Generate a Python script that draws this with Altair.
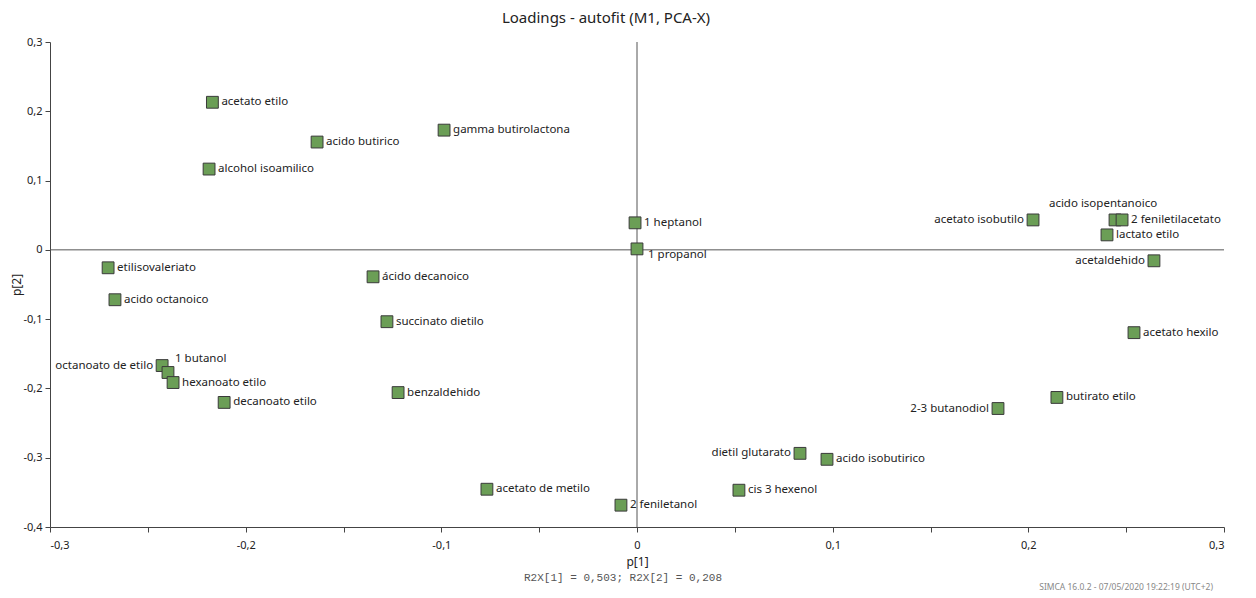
import altair as alt
import pandas as pd
import numpy as np

names = [
    "acetato etilo", "acido butirico", "gamma butirolactona", "alcohol isoamilico",
    "1 heptanol", "1 propanol", "acetato isobutilo", "acido isopentanoico",
    "2 feniletilacetato", "lactato etilo", "acetaldehido", "etilisovaleriato",
    "acido octanoico", "ácido decanoico", "succinato dietilo", "benzaldehido",
    "acetato hexilo", "butirato etilo", "2-3 butanodiol", "dietil glutarato",
    "acido isobutirico", "cis 3 hexenol", "acetato de metilo", "2 feniletanol",
    "octanoato de etilo", "1 butanol", "hexanoato etilo", "decanoato etilo",
]
p1 = [
    -0.217, -0.1635, -0.0986, -0.2187,
    -0.001, 0.000, 0.2024, 0.2443,
    0.2479, 0.2402, 0.2642, -0.2703,
    -0.2668, -0.1349, -0.1278, -0.1221,
    0.2540, 0.2146, 0.1845, 0.0833,
    0.0971, 0.0521, -0.0767, -0.0082,
    -0.2427, -0.2397, -0.2371, -0.2110,
]
p2 = [
    0.213, 0.1556, 0.1728, 0.1166,
    0.039, 0.0014, 0.0432, 0.0432,
    0.0432, 0.0216, -0.0158, -0.0259,
    -0.072, -0.0389, -0.1037, -0.2060,
    -0.1195, -0.2130, -0.2290, -0.2937,
    -0.3023, -0.3469, -0.3455, -0.3685,
    -0.1670, -0.1770, -0.1915, -0.2202,
]

left_labels = ["octanoato de etilo", "acetato isobutilo", "acetaldehido",
               "2-3 butanodiol", "dietil glutarato"]
above_labels = ["acido isopentanoico"]
upright_labels = ["1 butanol"]
below_labels = ["1 propanol"]
special = left_labels + above_labels + upright_labels + below_labels

title_text = "Loadings - autofit (M1, PCA-X)"
r2x_text = "R2X[1] = 0,503; R2X[2] = 0,208"
footer_text = "SIMCA 16.0.2 - 07/05/2020 19:22:19 (UTC+2)"

df = pd.DataFrame({"name": names, "p1": p1, "p2": p2})

FONT = "Noto Sans"
xvals = [round(v, 2) for v in np.arange(-0.30, 0.301, 0.05)]
yvals = [round(v, 2) for v in np.arange(-0.40, 0.301, 0.05)]
lab = "abs(round(datum.value*20)) % 2 == 0 ? replace(toString(round(datum.value*10)/10), '.', ',') : ''"

xs = alt.Scale(domain=[-0.3, 0.3], nice=False, zero=False)
ys = alt.Scale(domain=[-0.4, 0.3], nice=False, zero=False)

base = alt.Chart(df)

X = alt.X("p1:Q", scale=xs, axis=alt.Axis(values=xvals, labelExpr=lab, title="p[1]",
                                          titlePadding=6))
Y = alt.Y("p2:Q", scale=ys, axis=alt.Axis(values=yvals, labelExpr=lab, title="p[2]",
                                          titlePadding=-1))

zero = pd.DataFrame({"z": [0.0]})
vline = alt.Chart(zero).mark_rule(color="#555", strokeWidth=1).encode(x=alt.X("z:Q", scale=xs))
hline = alt.Chart(zero).mark_rule(color="#555", strokeWidth=1).encode(y=alt.Y("z:Q", scale=ys))

points = base.mark_point(shape="square", size=140, filled=True, fill="#6b9e56",
                         stroke="#3a3a3a", strokeWidth=1, opacity=1).encode(x=X, y=Y)

tfont = dict(font=FONT, fontSize=11.5, color="#222")
lab_right = base.transform_filter(
    ~alt.FieldOneOfPredicate(field="name", oneOf=special)
).mark_text(align="left", baseline="middle", dx=9, **tfont).encode(x=X, y=Y, text="name:N")
lab_left = base.transform_filter(
    alt.FieldOneOfPredicate(field="name", oneOf=left_labels)
).mark_text(align="right", baseline="middle", dx=-9, **tfont).encode(x=X, y=Y, text="name:N")
lab_above = base.transform_filter(
    alt.FieldOneOfPredicate(field="name", oneOf=above_labels)
).mark_text(align="center", baseline="middle", dx=-12, dy=-16, **tfont).encode(x=X, y=Y, text="name:N")
lab_upright = base.transform_filter(
    alt.FieldOneOfPredicate(field="name", oneOf=upright_labels)
).mark_text(align="left", baseline="middle", dx=7, dy=-13, **tfont).encode(x=X, y=Y, text="name:N")
lab_below = base.transform_filter(
    alt.FieldOneOfPredicate(field="name", oneOf=below_labels)
).mark_text(align="left", baseline="middle", dx=11, dy=6, **tfont).encode(x=X, y=Y, text="name:N")

r2x = alt.Chart(pd.DataFrame({"t": [r2x_text]})).mark_text(
    font="Liberation Mono", fontSize=11, color="#555", align="center", baseline="middle"
).encode(text="t:N", x=alt.value(573), y=alt.value(536))

footer = alt.Chart(pd.DataFrame({"t": [footer_text]})).mark_text(
    font=FONT, fontSize=8.5, color="#888", align="right", baseline="middle"
).encode(text="t:N", x=alt.value(1163), y=alt.value(545))

chart = alt.layer(
    hline, vline, points, lab_right, lab_left, lab_above, lab_upright, lab_below, r2x, footer
).properties(
    width=1174, height=485,
    title=alt.TitleParams(title_text, anchor="middle", dx=-31, offset=10,
                          font=FONT, fontSize=15, fontWeight="normal", color="#222"),
    autosize=alt.AutoSizeParams(type="none"),
    padding={"left": 42, "top": 34, "right": 20, "bottom": 70},
).configure_view(stroke=None).configure_axis(
    grid=False, domainColor="#444", tickColor="#444", tickSize=5,
    labelFont=FONT, labelFontSize=11, labelColor="#222",
    titleFont=FONT, titleFontSize=12, titleFontWeight="normal", titleColor="#222",
    labelPadding=3,
).configure_axisX(labelPadding=7)

chart.save("out.html", embed_options={"renderer": "svg", "actions": False})
